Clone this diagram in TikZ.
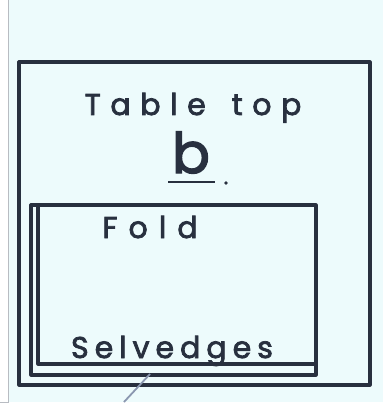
\documentclass[tikz,border=0pt]{standalone}
\usepackage{fontspec}
\newfontfamily\handfont[FakeBold=2.5]{Poppins}
\usetikzlibrary{positioning}
\definecolor{paper}{HTML}{EDFBFC}
\definecolor{ink}{HTML}{28303F}
\definecolor{faint}{HTML}{8A97B0}
\definecolor{edge}{HTML}{B8BCC2}

\begin{document}
\begin{tikzpicture}[
  x=1pt, y=-1pt,
  ink line/.style={draw=ink, line width=3.2pt, line join=round},
  hand/.style={font=\handfont\fontsize{30}{30}\selectfont, text=ink, inner sep=0pt}
]
\useasboundingbox (0,0) rectangle (383,406);
\fill[paper] (0,0) rectangle (383,406);
\fill[white] (0,0) rectangle (8,402);
\fill[white] (0,402) rectangle (383,406);
\draw[edge, line width=1pt] (8,0) -- (8,402) -- (0,402);

% Table top outline.
\draw[ink line] (19,62) rectangle (370,385);

% Folded cloth with selvedges.
\draw[ink line] (31,205) rectangle (316,375);
\draw[ink line] (38,206) -- (38,364) -- (315,364);

% Labels.
\node[hand, anchor=base] (tabletop) at (193,115) {\addfontfeature{LetterSpace=32}Table\hspace{26pt}top};
\node[hand, anchor=base, font=\handfont\fontsize{56}{56}\selectfont] (b) at (191,173) {b};
\coordinate (ul) at (168,182);
\coordinate (ur) at (215,182);
\draw[ink, line width=2.6pt] (ul) -- (ur);
\fill[ink] (226,183) circle (1.8);
\node[hand, anchor=base] (fold) at (150,238) {\addfontfeature{LetterSpace=37}Fold};
\node[hand, anchor=base] (selvedges) at (172,358) {\addfontfeature{LetterSpace=20}Selvedges};

% Leader stroke.
\coordinate (lt) at (150,374);
\coordinate (lb) at (124,402);
\draw[faint, line width=1.8pt] (lt) -- (lb);
\end{tikzpicture}
\end{document}
